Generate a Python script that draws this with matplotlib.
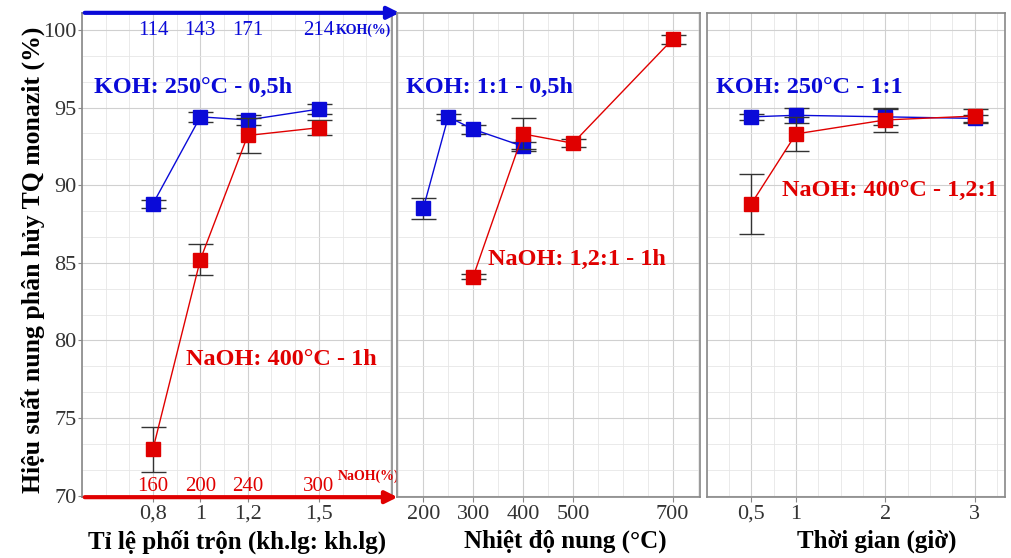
"""Hiệu suất nung phân hủy TQ monazit - KOH / NaOH"""

import matplotlib
matplotlib.use('Agg')
import matplotlib.pyplot as plt
from matplotlib.ticker import MultipleLocator

plt.rcParams['font.family'] = ['Liberation Serif', 'DejaVu Serif']

# Panel 1: tỉ lệ phối trộn
ti_le = [0.8, 1.0, 1.2, 1.5]
koh_tl = [88.8, 94.4, 94.2, 94.9]
koh_tl_err = [0.25, 0.3, 0.3, 0.3]
naoh_tl = [73.0, 85.2, 93.2, 93.7]
naoh_tl_err = [1.45, 1.0, 1.1, 0.5]
koh_pct = ['114', '143', '171', '214']
naoh_pct = ['160', '200', '240', '300']

# Panel 2: nhiệt độ nung
t_koh = [200, 250, 300, 400]
koh_t = [88.5, 94.4, 93.6, 92.5]
koh_t_err = [0.7, 0.2, 0.3, 0.3]
t_naoh = [300, 400, 500, 700]
naoh_t = [84.1, 93.3, 92.7, 99.4]
naoh_t_err = [0.15, 1.0, 0.25, 0.3]

# Panel 3: thời gian
tg = [0.5, 1, 2, 3]
koh_g = [94.4, 94.5, 94.4, 94.3]
koh_g_err = [0.2, 0.5, 0.5, 0.2]
naoh_g = [88.8, 93.3, 94.2, 94.45]
naoh_g_err = [1.95, 1.1, 0.8, 0.45]

BLUE = '#0a0ad8'
RED = '#e00000'
fs_tick = 16
fs_lab = 18
fs_txt = 17.5
ylab_x = -0.066  # vị trí nhãn trục x (theo tỉ lệ trục)

fig = plt.figure(figsize=(10.11, 5.58), dpi=100)
ax1 = fig.add_axes([0.081, 0.109, 0.307, 0.868])
ax2 = fig.add_axes([0.393, 0.109, 0.299, 0.868])
ax3 = fig.add_axes([0.699, 0.109, 0.295, 0.868])


def ve(ax, x1, y1, e1, x2, y2, e2):
    ax.errorbar(x1, y1, yerr=e1, color=BLUE, lw=1, marker='s', ms=10,
                ecolor='#333333', elinewidth=1, capsize=9, capthick=1, zorder=3)
    ax.errorbar(x2, y2, yerr=e2, color=RED, lw=1, marker='s', ms=10,
                ecolor='#333333', elinewidth=1, capsize=9, capthick=1, zorder=4)
    ax.set_ylim(69.9, 101.1)
    ax.yaxis.set_major_locator(MultipleLocator(5))
    ax.yaxis.set_minor_locator(MultipleLocator(5 / 3))
    ax.grid(True, which='major', color='#d0d0d0', lw=0.8)
    ax.grid(True, which='minor', color='#e6e6e6', lw=0.6)
    ax.set_axisbelow(True)
    for s in ax.spines.values():
        s.set_color('#888888')
        s.set_linewidth(1.2)
    ax.tick_params(which='both', direction='out', color='#888888', labelsize=fs_tick,
                   labelcolor='#333333', pad=2)
    ax.tick_params(which='minor', length=0)


ve(ax1, ti_le, koh_tl, koh_tl_err, ti_le, naoh_tl, naoh_tl_err)
ax1.set_xlim(0.5, 1.81)
ax1.set_xticks(ti_le)
ax1.set_xticklabels(['0,8', '1', '1,2', '1,5'])
ax1.xaxis.set_minor_locator(MultipleLocator(0.1))
ax1.tick_params(axis='y', length=3, pad=1)
ax1.set_ylabel('Hiệu suất nung phân hủy TQ monazit (%)', fontsize=18.5,
               fontweight='bold')
ax1.yaxis.set_label_coords(-0.118, 0.49)
ax1.set_xlabel('Tỉ lệ phối trộn (kh.lg: kh.lg)', fontsize=fs_lab, fontweight='bold')
ax1.xaxis.set_label_coords(0.5, ylab_x)

# phần trăm KOH / NaOH
for x, k, n in zip(ti_le, koh_pct, naoh_pct):
    ax1.text(x, 99.95, k, color=BLUE, fontsize=15, ha='center', va='center')
    ax1.text(x, 70.6, n, color=RED, fontsize=15, ha='center', va='center')
ax1.text(1.57, 99.95, 'KOH(%)', color=BLUE, fontsize=10, fontweight='bold',
         ha='left', va='center', clip_on=False)
ax1.text(1.58, 71.25, 'NaOH(%)', color=RED, fontsize=10, fontweight='bold',
         ha='left', va='center', clip_on=False)
ax1.annotate('', xy=(0.398, 0.977), xytext=(0.081, 0.977), xycoords='figure fraction',
             arrowprops=dict(arrowstyle='-|>', color=BLUE, lw=3, mutation_scale=18))
ax1.annotate('', xy=(0.396, 0.109), xytext=(0.081, 0.109), xycoords='figure fraction',
             arrowprops=dict(arrowstyle='-|>', color=RED, lw=3, mutation_scale=18))

ax1.text(0.55, 96.3, 'KOH: 250°C - 0,5h', color=BLUE, fontsize=fs_txt, fontweight='bold',
         va='center')
ax1.text(0.94, 78.8, 'NaOH: 400°C - 1h', color=RED, fontsize=fs_txt, fontweight='bold',
         va='center')

ve(ax2, t_koh, koh_t, koh_t_err, t_naoh, naoh_t, naoh_t_err)
ax2.set_xlim(148, 754)
ax2.set_xticks([200, 300, 400, 500, 700])
ax2.xaxis.set_minor_locator(MultipleLocator(50))
ax2.set_yticklabels([])
ax2.tick_params(axis='y', length=0)
ax2.set_xlabel('Nhiệt độ nung (°C)', fontsize=fs_lab, fontweight='bold')
ax2.xaxis.set_label_coords(0.555, ylab_x)
ax2.text(165, 96.3, 'KOH: 1:1 - 0,5h', color=BLUE, fontsize=fs_txt, fontweight='bold',
         va='center')
ax2.text(330, 85.2, 'NaOH: 1,2:1 - 1h', color=RED, fontsize=fs_txt, fontweight='bold',
         va='center')

ve(ax3, tg, koh_g, koh_g_err, tg, naoh_g, naoh_g_err)
ax3.set_xlim(0, 3.34)
ax3.set_xticks(tg)
ax3.set_xticklabels(['0,5', '1', '2', '3'])
ax3.xaxis.set_minor_locator(MultipleLocator(0.25))
ax3.set_yticklabels([])
ax3.tick_params(axis='y', length=0)
ax3.set_xlabel('Thời gian (giờ)', fontsize=fs_lab, fontweight='bold')
ax3.xaxis.set_label_coords(0.57, ylab_x)
ax3.text(0.1, 96.3, 'KOH: 250°C - 1:1', color=BLUE, fontsize=fs_txt, fontweight='bold',
         va='center')
ax3.text(0.84, 89.6, 'NaOH: 400°C - 1,2:1', color=RED, fontsize=fs_txt, fontweight='bold',
         va='center')

fig.savefig('out.png', dpi=100)
